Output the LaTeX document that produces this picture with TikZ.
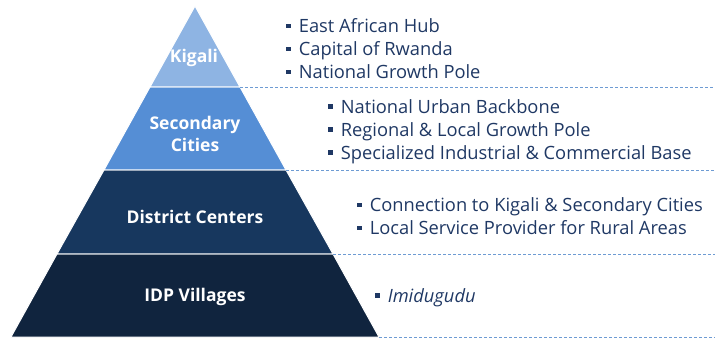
\documentclass[tikz,border=0pt]{standalone}
\usepackage{fontspec}
\setmainfont{Open Sans}
\usepackage{xcolor}
\usetikzlibrary{positioning,calc}
\definecolor{tierone}{HTML}{8EB4E3}
\definecolor{tiertwo}{HTML}{558ED5}
\definecolor{tierthree}{HTML}{17375E}
\definecolor{tierfour}{HTML}{10243E}
\definecolor{notenavy}{HTML}{1F3864}
\definecolor{dashblue}{HTML}{6D9BD3}
\newcommand{\sqbullet}{\rule[0.27em]{0.24em}{0.24em}\hspace{0.45em}}

\tikzset{
  tier/.style={draw=white, line width=1pt},
  tierlabel/.style={text=white, align=center, font=\fontsize{17.5}{22}\selectfont\bfseries},
  note/.style={anchor=west, inner sep=0pt, align=left, text=notenavy, font=\fontsize{18.3}{23}\selectfont},
  divider/.style={draw=dashblue, dash pattern=on 3pt off 2pt, line width=0.8pt}
}

\begin{document}
\begin{tikzpicture}[x=1pt,y=-1pt]
    \useasboundingbox (0,0) rectangle (715,339);

    % Pyramid corners
    \coordinate (apex) at (195,6);
    \coordinate (kigL) at (150,87);  \coordinate (kigR) at (240,87);
    \coordinate (secL) at (104,170); \coordinate (secR) at (286,170);
    \coordinate (disL) at (57,254);  \coordinate (disR) at (333,254);
    \coordinate (idpL) at (11,337);  \coordinate (idpR) at (379,337);
    \coordinate (edgeK) at (715,87);
    \coordinate (edgeS) at (715,170);
    \coordinate (edgeD) at (715,254);
    \coordinate (edgeI) at (715,337);

    % Tiers
    \filldraw[tier, fill=tierfour]  (disL) -- (disR) -- (idpR) -- (idpL) -- cycle;
    \filldraw[tier, fill=tierthree] (secL) -- (secR) -- (disR) -- (disL) -- cycle;
    \filldraw[tier, fill=tiertwo]   (kigL) -- (kigR) -- (secR) -- (secL) -- cycle;
    \filldraw[tier, fill=tierone]   (apex) -- (kigR) -- (kigL) -- cycle;

    % Tier labels
    \node[tierlabel] (kigali) at (194,58) {Kigali};
    \node[tierlabel] (secondary) at (195,134) {Secondary\\Cities};
    \node[tierlabel] (district) at (195,217) {District Centers};
    \node[tierlabel] (idp) at (195,297) {IDP Villages};

    % Dashed dividers
    \draw[divider] (kigR) -- (edgeK);
    \draw[divider] (secR) -- (edgeS);
    \draw[divider] (disR) -- (edgeD);
    \draw[divider] (idpR) -- (edgeI);

    % Descriptions
    \node[note] (kigaliNote) at (286,49)
        {\sqbullet East African Hub\\ \sqbullet Capital of Rwanda\\ \sqbullet National Growth Pole};
    \node[note] (secondaryNote) at (328,132)
        {\sqbullet National Urban Backbone\\ \sqbullet Regional \& Local Growth Pole\\ \sqbullet Specialized Industrial \& Commercial Base};
    \node[note] (districtNote) at (357,216.5)
        {\sqbullet Connection to Kigali \& Secondary Cities\\ \sqbullet Local Service Provider for Rural Areas};
    \node[note] (idpNote) at (375,298)
        {\sqbullet \textit{Imidugudu}};
\end{tikzpicture}
\end{document}
